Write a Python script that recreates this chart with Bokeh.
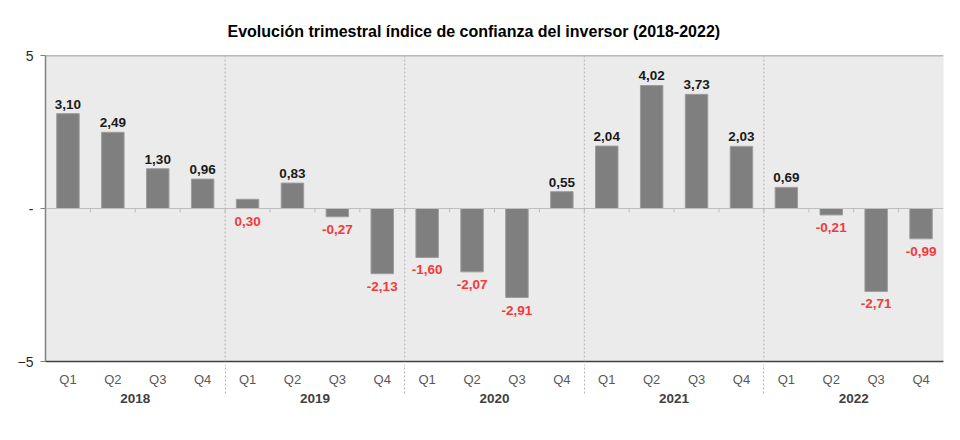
from bokeh.plotting import figure
from bokeh.models import FactorRange, Range1d, Span, FixedTicker, ColumnDataSource
from bokeh.embed import file_html
from bokeh.resources import INLINE
from bokeh.core.properties import value

title = "Evolución trimestral índice de confianza del inversor (2018-2022)"
years = ["2018", "2019", "2020", "2021", "2022"]
quarters = ["Q1", "Q2", "Q3", "Q4"]
values = [3.10, 2.49, 1.30, 0.96,
          0.30, 0.83, -0.27, -2.13,
          -1.60, -2.07, -2.91, 0.55,
          2.04, 4.02, 3.73, 2.03,
          0.69, -0.21, -2.71, -0.99]
# labels shown in red below the zero line in the original (includes 2019 Q1)
red_label_periods = [("2019", "Q1")]
y_ticks = [-5, 0, 5]
y_tick_labels = {0: "-"}

factors = [(y, q) for y in years for q in quarters]
labels = [f"{v:.2f}".replace(".", ",") for v in values]

FONT = "Liberation Sans"

p = figure(width=960, height=440,
           x_range=FactorRange(*factors, group_padding=0, range_padding=0, factor_padding=0),
           y_range=Range1d(-5, 5),
           output_backend="svg", toolbar_location=None,
           min_border_left=45, min_border_right=17, min_border_top=55, min_border_bottom=79)

p.background_fill_color = "#ebebeb"
p.border_fill_color = "white"
p.outline_line_color = None
p.xgrid.grid_line_color = None
p.ygrid.grid_line_color = None

p.title.text = title
p.title.align = "left"
p.title.offset = 182
p.title.text_font = FONT
p.title.text_font_style = "bold"
p.title.text_font_size = "16px"
p.title.text_color = "#000000"
p.title.standoff = 32

# zero line
p.add_layout(Span(location=0, dimension="width", line_color="#bfbfbf", line_width=1))
# top border
p.add_layout(Span(location=5, dimension="width", line_color="#808080", line_width=1.5))
# year separators inside plot
for i in range(1, len(years)):
    p.add_layout(Span(location=i * len(quarters), dimension="height",
                      line_color="#b4b4b4", line_dash="2 2", line_width=1))

# small ticks along the zero line between quarters
tick_x = list(range(1, len(factors)))
p.segment(x0=tick_x, x1=tick_x, y0=[0] * len(tick_x), y1=[-0.13] * len(tick_x),
          line_color="#bfbfbf", line_width=1)

src = ColumnDataSource(dict(x=factors, top=values))
p.vbar(x="x", top="top", width=0.5, source=src,
       fill_color="#7f7f7f", line_color="#9c9c9c", line_width=1)

above_x, above_y, above_t = [], [], []
below_x, below_y, below_t = [], [], []
for f, v, t in zip(factors, values, labels):
    if v < 0 or f in red_label_periods:
        below_x.append(f); below_y.append(min(v, 0)); below_t.append(t)
    else:
        above_x.append(f); above_y.append(v); above_t.append(t)

p.text(x=above_x, y=above_y, text=above_t, text_align="center", text_baseline="bottom",
       y_offset=-5, text_font=value(FONT), text_font_style="bold",
       text_font_size="13.5px", text_color="#1a1a1a")
p.text(x=below_x, y=below_y, text=below_t, text_align="center", text_baseline="top",
       y_offset=8, text_font=value(FONT), text_font_style="bold",
       text_font_size="13.5px", text_color="#f23a3a")

# y axis
ya = p.yaxis[0]
ya.ticker = FixedTicker(ticks=y_ticks)
ya.major_label_overrides = y_tick_labels
ya.minor_tick_line_color = None
ya.major_tick_in = 0
ya.major_tick_out = 5
ya.major_tick_line_color = "#808080"
ya.axis_line_color = "#808080"
ya.axis_line_width = 1.5
ya.major_label_standoff = 7
ya.major_label_text_font = FONT
ya.major_label_text_font_size = "14px"
ya.major_label_text_color = "#262626"

# x axis
xa = p.xaxis[0]
xa.axis_line_color = "#404040"
xa.axis_line_width = 1.5
xa.major_tick_line_color = None
xa.minor_tick_line_color = None
xa.major_label_standoff = 4
xa.major_label_text_font = FONT
xa.major_label_text_font_size = "13px"
xa.major_label_text_color = "#595959"
xa.group_text_font = FONT
xa.group_text_font_size = "13.5px"
xa.group_text_font_style = "bold"
xa.group_text_color = "#404040"
xa.separator_line_color = "#b4b4b4"
xa.separator_line_dash = "2 2"
xa.separator_line_width = 1

open("out.html", "w").write(file_html(p, INLINE))
